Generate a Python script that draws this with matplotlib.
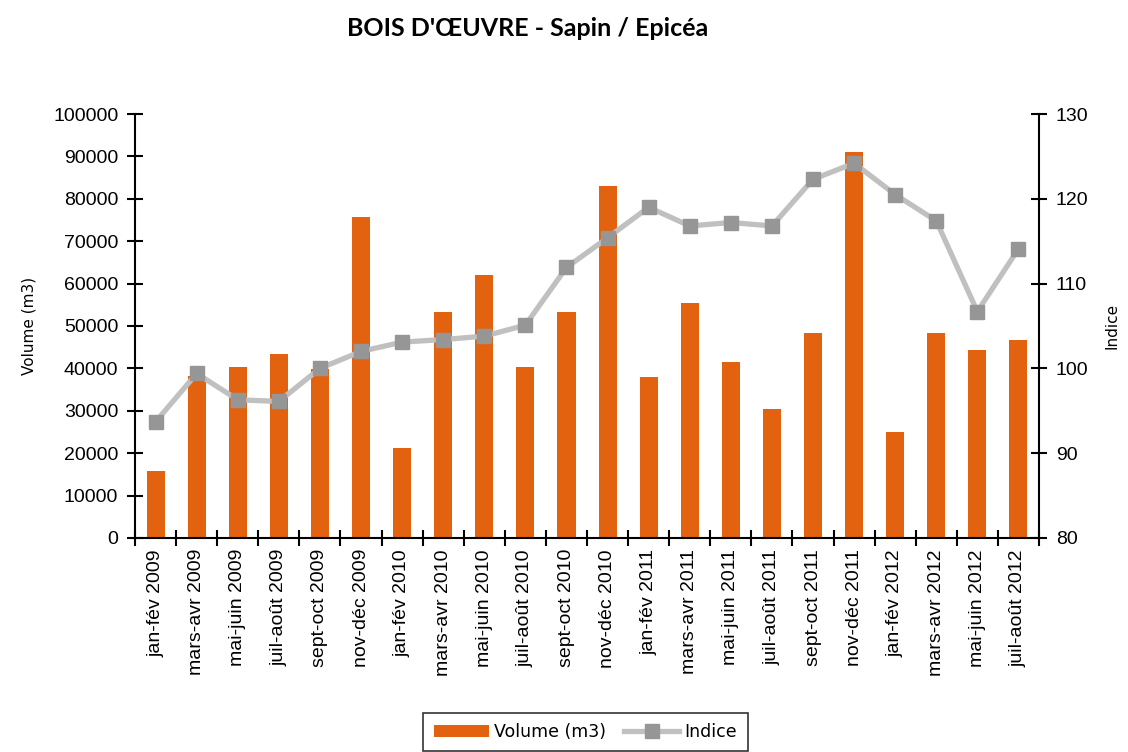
import matplotlib
matplotlib.use("Agg")
import matplotlib.pyplot as plt
import numpy as np

# periodes
periodes = ["jan-fév 2009", "mars-avr 2009", "mai-juin 2009", "juil-août 2009",
            "sept-oct 2009", "nov-déc 2009", "jan-fév 2010", "mars-avr 2010",
            "mai-juin 2010", "juil-août 2010", "sept-oct 2010", "nov-déc 2010",
            "jan-fév 2011", "mars-avr 2011", "mai-juin 2011", "juil-août 2011",
            "sept-oct 2011", "nov-déc 2011", "jan-fév 2012", "mars-avr 2012",
            "mai-juin 2012", "juil-août 2012"]

# volumes (m3)
volume = [15900, 38200, 40400, 43500, 39800, 75600, 21200, 53200,
          62000, 40400, 53200, 83100, 37900, 55400, 41400, 30400,
          48400, 91000, 25100, 48400, 44400, 46700]

# indice
indice = [93.7, 99.4, 96.3, 96.1, 100.0, 102.0, 103.1, 103.4, 103.8, 105.1,
          111.9, 115.4, 119.0, 116.8, 117.2, 116.8, 122.3, 124.2, 120.5, 117.4,
          106.7, 114.1]

orange = "#E3620F"
x = np.arange(len(periodes))

fig = plt.figure(figsize=(11.28, 7.52), dpi=100)
ax = fig.add_axes([0.1197, 0.2846, 0.8014, 0.5638])
ax2 = ax.twinx()

#barres
ax.bar(x, volume, width=0.44, color=orange, label="Volume (m3)", zorder=2)

#courbe
ax2.plot(x, indice, color="#C0C0C0", linewidth=3.8, marker="s", markersize=10.5,
         markerfacecolor="#969696", markeredgecolor="#969696", label="Indice", zorder=3)

ax.set_xlim(-0.5, len(periodes) - 0.5)
ax.set_ylim(0, 100000)
ax.set_yticks(range(0, 100001, 10000))
ax2.set_ylim(80, 130)
ax2.set_yticks(range(80, 131, 10))

tick_font = {"family": "Liberation Sans", "size": 14}
ax.set_yticklabels([str(v) for v in range(0, 100001, 10000)], fontdict=tick_font)
ax2.set_yticklabels([str(v) for v in range(80, 131, 10)], fontdict=tick_font)

ax.set_xticks(x)
ax.set_xticklabels(periodes, rotation=90, fontdict=tick_font)
ax.set_xticks(np.arange(-0.5, len(periodes)), minor=True)
ax.tick_params(axis="x", which="major", length=0, pad=8)
ax.tick_params(axis="x", which="minor", direction="inout", length=12, width=1.5)
ax.tick_params(axis="y", direction="inout", length=12, width=1.5, pad=6)
ax2.tick_params(axis="y", direction="inout", length=12, width=1.5, pad=6)

for a in (ax, ax2):
    a.spines["top"].set_visible(False)
    for s in ("left", "right", "bottom"):
        a.spines[s].set_linewidth(1.5)
ax.spines["right"].set_visible(False)
ax2.spines["left"].set_visible(False)
ax2.spines["bottom"].set_visible(False)

ax.set_ylabel("Volume (m3)", fontsize=11, family="DejaVu Sans", labelpad=12)
ax2.set_ylabel("Indice", fontsize=11, family="DejaVu Sans", labelpad=12)

fig.text(0.468, 0.962, "BOIS D'ŒUVRE - Sapin / Epicéa", ha="center", va="center",
         fontsize=18, fontweight="bold", family="Lato")

h1, l1 = ax.get_legend_handles_labels()
h2, l2 = ax2.get_legend_handles_labels()
leg = fig.legend(h1 + h2, l1 + l2, loc="upper center", bbox_to_anchor=(0.519, 0.064),
                 ncol=2, frameon=True, fancybox=False, edgecolor="black",
                 prop={"family": "DejaVu Sans", "size": 12.5}, handlelength=3.2,
                 columnspacing=1.0, handletextpad=0.3, borderpad=0.6)
leg.get_frame().set_linewidth(1.2)

plt.savefig("out.png", dpi=100)
